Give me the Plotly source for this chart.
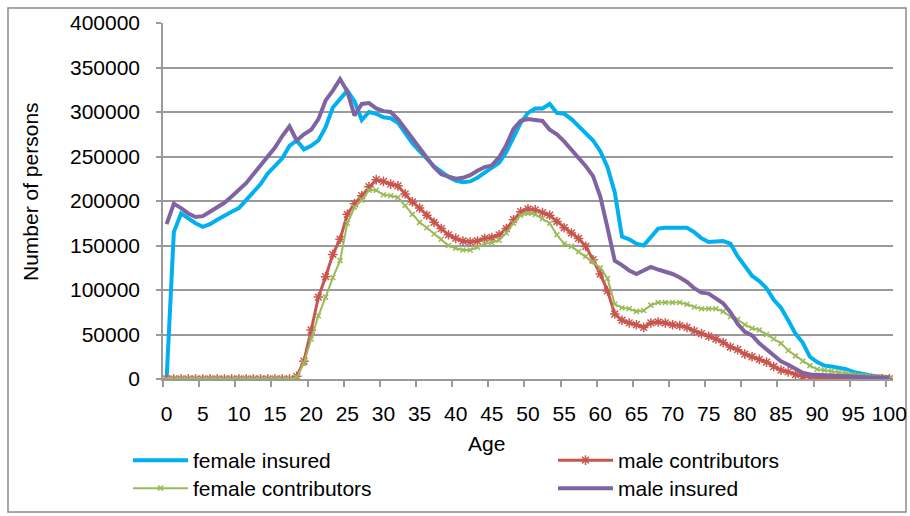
import plotly.graph_objects as go

# Age groups 0..100
ages = list(range(0, 101))

female_insured = [
    0, 165000, 186000, 180000, 175000, 171000, 174000, 179000, 184000, 188000,
    192000, 201000, 210000, 219000, 231000, 240000, 248000, 262000, 268000, 258000,
    262000, 268000, 283000, 305000, 315000, 324000, 312000, 291000, 300000, 298000,
    294000, 293000, 288000, 276000, 265000, 256000, 247000, 239000, 233000, 227000,
    223000, 221000, 222000, 226000, 232000, 237000, 243000, 255000, 272000, 288000,
    299000, 304000, 304000, 309000, 299000, 298000, 292000, 284000, 276000, 268000,
    256000, 238000, 210000, 160000, 157000, 152000, 150000, 160000, 169000, 170000,
    170000, 170000, 170000, 165000, 158000, 154000, 155000, 155000, 152000, 138000,
    127000, 116000, 110000, 102000, 89000, 80000, 66000, 51000, 41000, 25000,
    19000, 15000, 14000, 13000, 11000, 8000, 6000, 4500, 3000, 2500,
    2000,
]

male_contributors = [
    0, 0, 0, 0, 0, 0, 0, 0, 0, 0,
    0, 0, 0, 0, 0, 0, 0, 0, 3000, 20000,
    55000, 92000, 115000, 140000, 157000, 185000, 197000, 206000, 216000, 224000,
    222000, 219000, 217000, 208000, 199000, 192000, 184000, 176000, 169000, 162000,
    158000, 155000, 154000, 155000, 158000, 159000, 162000, 169000, 179000, 188000,
    191000, 190000, 187000, 184000, 177000, 170000, 164000, 158000, 149000, 134000,
    118000, 99000, 73000, 66000, 63000, 61000, 58000, 63000, 64000, 63000,
    61000, 60000, 58000, 54000, 51000, 48000, 45000, 41000, 36000, 33000,
    28000, 25000, 22000, 19000, 14000, 10000, 8000, 5000, 3000, 2000,
    1500, 1200, 1000, 800, 700, 600, 500, 400, 300, 200,
    200,
]

female_contributors = [
    0, 0, 0, 0, 0, 0, 0, 0, 0, 0,
    0, 0, 0, 0, 0, 0, 0, 0, 2000, 18000,
    45000, 71000, 92000, 114000, 133000, 175000, 193000, 201000, 212000, 212000,
    207000, 206000, 204000, 195000, 185000, 176000, 170000, 163000, 157000, 150000,
    147000, 145000, 145000, 148000, 152000, 153000, 156000, 164000, 175000, 184000,
    186000, 185000, 180000, 175000, 162000, 152000, 149000, 143000, 138000, 132000,
    125000, 113000, 84000, 80000, 79000, 76000, 77000, 83000, 86000, 86000,
    86000, 86000, 84000, 81000, 79000, 79000, 79000, 76000, 70000, 67000,
    61000, 57000, 55000, 50000, 45000, 40000, 32000, 26000, 20000, 15000,
    11000, 10000, 9000, 7500, 6500, 5000, 4000, 3500, 2500, 2000,
    1000,
]

male_insured = [
    174000, 197000, 192000, 186000, 182000, 183000, 188000, 193000, 198000, 205000,
    212000, 220000, 230000, 240000, 249000, 260000, 273000, 284000, 268000, 275000,
    280000, 292000, 313000, 324000, 337000, 323000, 296000, 309000, 310000, 304000,
    301000, 300000, 292000, 281000, 270000, 259000, 248000, 238000, 230000, 227000,
    225000, 226000, 229000, 234000, 238000, 240000, 249000, 263000, 281000, 290000,
    292000, 291000, 290000, 280000, 275000, 267000, 258000, 248000, 239000, 228000,
    205000, 170000, 133000, 128000, 122000, 118000, 122000, 126000, 123000, 121000,
    118000, 114000, 109000, 102000, 97000, 96000, 91000, 85000, 75000, 62000,
    53000, 49000, 40000, 33000, 27000, 20000, 16000, 11000, 7000, 5000,
    4500, 4000, 3500, 3000, 2800, 2600, 2300, 2000, 1600, 1200,
    1000,
]

x_tick_vals = list(range(0, 101, 5))
x_tick_text = [str(v) for v in x_tick_vals]
y_tick_vals = list(range(0, 400001, 50000))

BLUE = "#00B0F0"
RED = "#C9564E"
GREEN = "#9BBB59"
PURPLE = "#8064A2"
GRID = "#9A9A9A"
FONT = "Liberation Sans, Arial, sans-serif"
FS = 21

fig = go.Figure()

fig.add_trace(go.Scatter(
    x=ages, y=female_insured, name="female insured", mode="lines",
    line=dict(color=BLUE, width=4), legend="legend",
))
fig.add_trace(go.Scatter(
    x=ages, y=male_contributors, name="male contributors", mode="lines+markers",
    line=dict(color=RED, width=3),
    marker=dict(symbol="asterisk-open", size=8, color=RED, line=dict(color=RED, width=1.5)),
    legend="legend2",
))
fig.add_trace(go.Scatter(
    x=ages, y=female_contributors, name="female contributors", mode="lines+markers",
    line=dict(color=GREEN, width=2),
    marker=dict(symbol="x-thin-open", size=5, color=GREEN, line=dict(color=GREEN, width=1.5)),
    legend="legend3",
))
fig.add_trace(go.Scatter(
    x=ages, y=male_insured, name="male insured", mode="lines",
    line=dict(color=PURPLE, width=4), legend="legend4",
))

W, H = 910, 516
L, R, T, B = 163, 17, 23, 137
pw, ph = W - L - R, H - T - B

def px_x(x):
    return (x - L) / pw

def px_y(y):
    return (H - B - y) / ph

def legend_at(left_px, top_px):
    # one legend box per entry, placed in container pixels
    return dict(
        x=left_px / W, y=1 - top_px / H,
        orientation="v", xanchor="left", yanchor="top",
        xref="container", yref="container",
        font=dict(family=FONT, size=FS, color="#000000"),
        bgcolor="rgba(0,0,0,0)", itemwidth=55,
    )

fig.update_layout(
    width=W, height=H,
    margin=dict(l=L, r=R, t=T, b=B, autoexpand=False),
    paper_bgcolor="white", plot_bgcolor="white",
    font=dict(family=FONT, size=FS, color="#000000"),
    showlegend=True,
    legend=legend_at(128, 440),
    legend2=legend_at(553, 440),
    legend3=legend_at(128, 468),
    legend4=legend_at(553, 468),
    xaxis=dict(
        range=[-0.5, 100.5],
        tickmode="array", tickvals=x_tick_vals, ticktext=x_tick_text,
        ticks="", ticklabelstandoff=15,
        minor=dict(ticks="outside", tick0=-0.5, dtick=5, ticklen=6,
                   tickcolor=GRID, tickwidth=1.5, showgrid=False),
        showgrid=False, zeroline=False,
        showline=True, linecolor=GRID, linewidth=1.5,
        tickfont=dict(family=FONT, size=FS),
    ),
    yaxis=dict(
        range=[0, 400000],
        tickmode="array", tickvals=y_tick_vals, tickformat="d",
        ticks="outside", ticklen=5, tickcolor=GRID, tickwidth=1.5,
        ticklabelstandoff=12,
        showgrid=True, gridcolor=GRID, gridwidth=1.5,
        zeroline=False,
        showline=True, linecolor=GRID, linewidth=1.5,
        tickfont=dict(family=FONT, size=FS),
    ),
    annotations=[
        dict(text="Age", xref="paper", yref="paper", x=px_x(486), y=px_y(443),
             xanchor="center", yanchor="middle", showarrow=False,
             font=dict(family=FONT, size=FS)),
        dict(text="Number of persons", xref="paper", yref="paper",
             x=px_x(30), y=px_y(192), textangle=-90,
             xanchor="center", yanchor="middle", showarrow=False,
             font=dict(family=FONT, size=FS)),
    ],
    shapes=[
        dict(type="rect", xref="paper", yref="paper",
             x0=px_x(8), x1=px_x(906), y0=px_y(512), y1=px_y(8),
             line=dict(color="#8A8A8A", width=1.5), layer="below"),
    ],
)

fig.write_html("out.html")
